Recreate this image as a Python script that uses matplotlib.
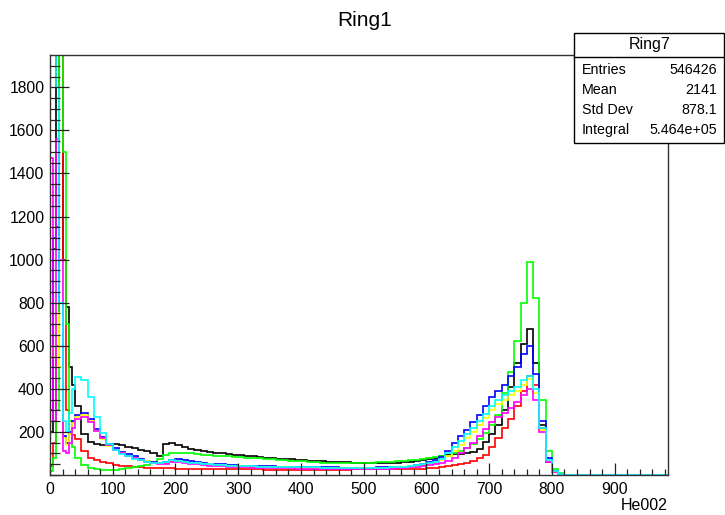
import numpy as np
import matplotlib
matplotlib.use("Agg")
import matplotlib.pyplot as plt

plt.rcParams['font.family'] = ['Liberation Sans', 'DejaVu Sans']

# bin edges: 5-wide bins up to 40, then 10-wide bins up to 990
edges = np.concatenate([np.arange(0, 40, 5), np.arange(40, 1000, 10)])

ring_names = ['Ring1', 'Ring2', 'Ring3', 'Ring4', 'Ring5', 'Ring6', 'Ring7']
ring_colors = ['#000000', '#ff0000', '#00ff00', '#0000ff', '#ffff00', '#ff00ff', '#00ffff']

ring1 = [200, 1050, 2500, 2500, 1000, 780, 500, 420,
         320, 190, 155, 145, 140, 140,
         145, 140, 130, 125, 115, 110, 100, 88, 145, 150,
         140, 130, 122, 116, 110, 108, 104, 100, 98, 95,
         92, 88, 86, 83, 80, 78, 76, 74, 72, 71,
         69, 67, 65, 63, 62, 61, 60, 59, 58, 57,
         56, 56, 55, 55, 57, 58, 60, 62, 65, 70,
         75, 80, 86, 92, 96, 98, 102, 108, 122, 155,
         190, 230, 300, 410, 520, 610, 680, 520, 230, 60,
         12, 3, 1, 1, 0, 1, 0, 0, 1, 0,
         0, 0, 1, 0, 0, 0, 0, 0, 0]

ring2 = [40, 150, 600, 2500, 1000, 300, 190, 185,
         165, 110, 80, 68, 60, 55,
         48, 44, 40, 38, 36, 34, 33, 32, 32, 31,
         30, 30, 29, 29, 28, 28, 28, 27, 27, 27,
         26, 26, 26, 26, 25, 25, 25, 25, 25, 25,
         25, 25, 25, 25, 25, 25, 25, 25, 26, 26,
         26, 26, 26, 27, 27, 28, 28, 29, 29, 30,
         31, 33, 36, 40, 46, 52, 58, 66, 80, 95,
         130, 170, 220, 260, 320, 390, 460, 420, 220, 60,
         15, 4, 1, 0, 0, 0, 0, 0, 0, 0,
         0, 0, 0, 0, 0, 0, 0, 0, 0]

ring3 = [20, 80, 300, 2500, 1500, 700, 250, 130,
         80, 45, 33, 28, 25, 23,
         25, 28, 32, 35, 40, 45, 55, 75, 95, 100,
         102, 102, 100, 98, 95, 93, 90, 88, 86, 84,
         82, 80, 78, 77, 75, 73, 71, 69, 67, 66,
         64, 62, 60, 58, 57, 56, 56, 56, 57, 57,
         58, 58, 59, 60, 62, 64, 66, 68, 71, 74,
         78, 82, 86, 90, 100, 110, 125, 145, 165, 195,
         230, 280, 380, 480, 620, 800, 990, 820, 350, 110,
         30, 8, 2, 1, 0, 0, 0, 0, 0, 0,
         0, 0, 0, 0, 0, 0, 0, 0, 0]

ring4 = [300, 1100, 1150, 800, 180, 150, 200, 250,
         280, 290, 260, 215, 175, 145,
         125, 108, 96, 86, 76, 67, 61, 58, 62, 70,
         72, 68, 63, 59, 56, 53, 51, 49, 47, 45,
         44, 43, 42, 41, 40, 40, 39, 38, 38, 37,
         37, 36, 36, 35, 35, 35, 34, 34, 34, 34,
         34, 34, 35, 35, 36, 37, 39, 42, 46, 52,
         60, 70, 85, 110, 150, 180, 210, 245, 280, 320,
         360, 390, 420, 460, 500, 560, 600, 470, 250, 80,
         20, 5, 1, 0, 0, 0, 0, 0, 0, 0,
         0, 0, 0, 0, 0, 0, 0, 0, 0]

ring5 = [600, 550, 750, 500, 170, 140, 190, 240,
         270, 280, 250, 205, 165, 135,
         115, 100, 90, 80, 71, 63, 57, 54, 58, 65,
         66, 62, 58, 54, 51, 49, 47, 45, 43, 42,
         41, 40, 39, 38, 37, 37, 36, 35, 35, 34,
         34, 33, 33, 33, 32, 32, 32, 32, 32, 32,
         32, 32, 33, 33, 34, 35, 37, 40, 44, 48,
         52, 58, 68, 88, 112, 140, 170, 200, 230, 265,
         300, 330, 350, 370, 390, 420, 445, 380, 210, 65,
         16, 4, 1, 0, 0, 0, 0, 0, 0, 0,
         0, 0, 0, 0, 0, 0, 0, 0, 0]

ring6 = [1470, 250, 1560, 1000, 110, 100, 150, 220,
         260, 270, 245, 205, 170, 140,
         118, 100, 88, 78, 68, 60, 54, 50, 53, 60,
         60, 56, 52, 49, 46, 44, 42, 40, 38, 37,
         36, 35, 34, 33, 33, 32, 32, 31, 31, 30,
         30, 30, 29, 29, 29, 29, 28, 28, 28, 28,
         28, 28, 29, 29, 30, 31, 33, 35, 38, 42,
         45, 50, 55, 65, 80, 100, 125, 150, 180, 215,
         245, 270, 290, 310, 340, 370, 400, 350, 200, 60,
         15, 4, 1, 0, 0, 0, 0, 0, 0, 0,
         0, 0, 0, 0, 0, 0, 0, 0, 0]

ring7 = [2500, 2500, 1800, 800, 250, 200, 290, 400,
         455, 440, 360, 270, 195, 145,
         118, 98, 86, 76, 68, 62, 58, 56, 62, 68,
         66, 61, 57, 54, 51, 49, 47, 45, 44, 43,
         42, 41, 40, 39, 38, 38, 37, 37, 36, 36,
         35, 35, 35, 34, 34, 34, 34, 33, 33, 33,
         33, 33, 34, 34, 35, 36, 38, 41, 46, 50,
         55, 62, 75, 100, 130, 160, 190, 220, 250, 285,
         320, 350, 370, 390, 410, 440, 460, 400, 220, 70,
         18, 5, 1, 0, 0, 0, 0, 0, 0, 0,
         0, 0, 0, 0, 0, 0, 0, 0, 0]

rings = [ring1, ring2, ring3, ring4, ring5, ring6, ring7]

stat_labels = ['Entries', 'Mean', 'Std Dev', 'Integral']
stat_values = ['546426', '2141', '878.1', '5.464e+05']

fig = plt.figure(figsize=(7.25, 5.15), dpi=100)
ax = fig.add_axes([50 / 725, 40 / 515, 618 / 725, 420 / 515])

for vals, col in zip(rings, ring_colors):
    ax.stairs(vals, edges, color=col, linewidth=1.2)

ax.set_xlim(0, 985)
ax.set_ylim(0, 1950)
ax.set_xticks(np.arange(0, 901, 100))
ax.set_xticks(np.arange(0, 985, 20), minor=True)
ax.set_yticks(np.arange(200, 1801, 200))
ax.set_yticks(np.arange(0, 1950, 50), minor=True)

ax.tick_params(axis='both', which='both', direction='in', top=False, right=False,
               labelsize=11.3, width=0.9, color='#222222')
ax.tick_params(axis='x', which='major', length=8.5, pad=5)
ax.tick_params(axis='x', which='minor', length=4.3)
ax.tick_params(axis='y', which='major', length=13.5, pad=4)
ax.tick_params(axis='y', which='minor', length=7)
for sp in ax.spines.values():
    sp.set_color('#333333')
    sp.set_linewidth(1.0)

fig.text(365 / 725, 1 - 20 / 515, 'Ring1', ha='center', va='center', fontsize=15)
fig.text(668 / 725, 1 - 505 / 515, 'He002', ha='right', va='center', fontsize=11.5)

# stats box
box = plt.Rectangle((574 / 725, 1 - 143 / 515), 150 / 725, 110 / 515,
                    transform=fig.transFigure, facecolor='white', edgecolor='black',
                    linewidth=1.0, zorder=5)
fig.patches.append(box)
fig.add_artist(plt.Line2D([574 / 725, 724 / 725], [1 - 57 / 515, 1 - 57 / 515],
                          transform=fig.transFigure, color='black', linewidth=1.0, zorder=6))
fig.text(650 / 725, 1 - 45 / 515, ring_names[-1], ha='center', va='center',
         fontsize=11.5, zorder=7)
for i, (lab, val) in enumerate(zip(stat_labels, stat_values)):
    y = 1 - (70 + 20 * i) / 515
    fig.text(582 / 725, y, lab, ha='left', va='center', fontsize=10.3, zorder=7)
    fig.text(717 / 725, y, val, ha='right', va='center', fontsize=10.3, zorder=7)

fig.savefig('out.png', dpi=100)
